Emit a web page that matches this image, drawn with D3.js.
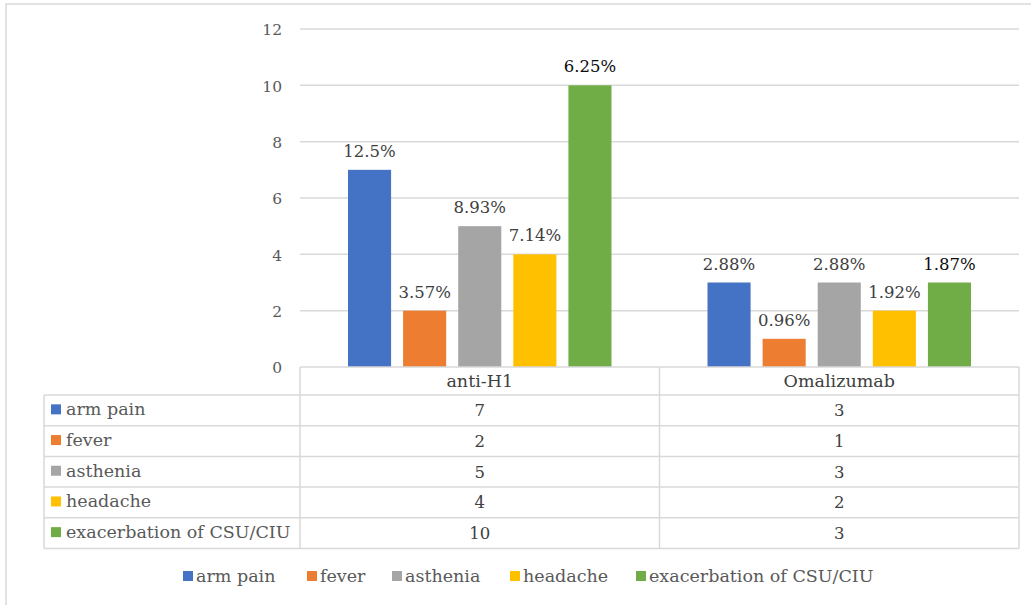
<!DOCTYPE html>
<html>
<head>
<meta charset="utf-8">
<script src="https://cdn.jsdelivr.net/npm/d3@7/dist/d3.min.js"></script>
<style>
  html, body { margin: 0; padding: 0; background: #ffffff; }
  svg { display: block; }
  text { font-family: Georgia, "DejaVu Serif", serif; }
</style>
</head>
<body>
<svg id="chart" width="1031" height="605"></svg>
<script>
// Adverse events by treatment group
const categories = ["anti-H1", "Omalizumab"];
const seriesNames = ["arm pain", "fever", "asthenia", "headache", "exacerbation of CSU/CIU"];
const antiH1Values = [7, 2, 5, 4, 10];
const omalizumabValues = [3, 1, 3, 2, 3];
const antiH1Percent = ["12.5%", "3.57%", "8.93%", "7.14%", "6.25%"];
const omalizumabPercent = ["2.88%", "0.96%", "2.88%", "1.92%", "1.87%"];
const yTicks = [0, 2, 4, 6, 8, 10, 12];
const seriesColors = ["#4472C4", "#ED7D31", "#A5A5A5", "#FFC000", "#70AD47"];

const valuesByCategory = [antiH1Values, omalizumabValues];
const percentByCategory = [antiH1Percent, omalizumabPercent];

const svg = d3.select("#chart");
const gridColor = "#d9d9d9";
const textColor = "#595959";
const bodySize = 17.5;

// outer frame (extends past the canvas at right and bottom)
svg.append("rect")
  .attr("x", 6).attr("y", 4).attr("width", 1040).attr("height", 620)
  .attr("fill", "none").attr("stroke", gridColor).attr("stroke-width", 1.5);

const plotLeft = 300, plotRight = 1019, plotTop = 29, plotBottom = 367;

const x0 = d3.scaleBand().domain(categories).range([plotLeft, plotRight]).paddingInner(0).paddingOuter(0);
const x1 = d3.scaleBand().domain(seriesNames)
  .range([48, x0.bandwidth() - 48]).paddingInner(0.218).paddingOuter(0);
const y = d3.scaleLinear().domain([0, 12]).range([plotBottom, plotTop]);

// gridlines
svg.append("g").selectAll("line").data(yTicks.filter(t => t > 0)).join("line")
  .attr("x1", plotLeft).attr("x2", plotRight)
  .attr("y1", d => y(d)).attr("y2", d => y(d))
  .attr("stroke", gridColor).attr("stroke-width", 1.5);

// y axis tick labels
const yAxis = d3.axisLeft(y).tickValues(yTicks).tickSize(0).tickPadding(0);
const yAxisG = svg.append("g").attr("transform", `translate(282,1)`).call(yAxis);
yAxisG.select(".domain").remove();
yAxisG.selectAll("text")
  .attr("fill", textColor).attr("font-size", 15.5)
  .style("font-family", 'Georgia, "DejaVu Serif", serif');

// bars
const groups = svg.append("g").selectAll("g").data(categories).join("g")
  .attr("transform", d => `translate(${x0(d)},0)`);

groups.selectAll("rect")
  .data((c, ci) => seriesNames.map((s, si) => ({ s, si, v: valuesByCategory[ci][si] })))
  .join("rect")
  .attr("x", d => x1(d.s)).attr("width", x1.bandwidth())
  .attr("y", d => y(d.v)).attr("height", d => y(0) - y(d.v))
  .attr("fill", d => seriesColors[d.si]);

// percentage labels above bars
groups.selectAll("text.pct")
  .data((c, ci) => seriesNames.map((s, si) => ({ s, si, v: valuesByCategory[ci][si], p: percentByCategory[ci][si] })))
  .join("text").attr("class", "pct")
  .attr("x", d => x1(d.s) + x1.bandwidth() / 2)
  .attr("y", d => y(d.v) - 13)
  .attr("text-anchor", "middle")
  .attr("font-size", 16.5)
  .attr("fill", d => d.si === 4 ? "#0d0d0d" : "#404040")
  .text(d => d.p);

// data table under the plot
const tableLeft = 44;
const headerTop = plotBottom, headerBottom = 395;
const rowH = 30.7;
const rowTops = seriesNames.map((s, i) => headerBottom + i * rowH);
const tableBottom = headerBottom + seriesNames.length * rowH;

const table = svg.append("g");
const lineStyle = sel => sel.attr("stroke", gridColor).attr("stroke-width", 1.5).attr("fill", "none");

table.append("line").attr("x1", plotLeft).attr("x2", plotRight).attr("y1", headerTop).attr("y2", headerTop).call(lineStyle);
table.selectAll("line.row").data(rowTops.concat([tableBottom])).join("line").attr("class", "row")
  .attr("x1", tableLeft).attr("x2", plotRight).attr("y1", d => d).attr("y2", d => d).call(lineStyle);
table.append("line").attr("x1", tableLeft).attr("x2", tableLeft).attr("y1", headerBottom).attr("y2", tableBottom).call(lineStyle);
const colEdges = categories.map(c => x0(c)).concat([plotRight]);
table.selectAll("line.col").data(colEdges).join("line").attr("class", "col")
  .attr("x1", d => d).attr("x2", d => d).attr("y1", headerTop).attr("y2", tableBottom).call(lineStyle);

// category headers
table.selectAll("text.cat").data(categories).join("text").attr("class", "cat")
  .attr("x", d => x0(d) + x0.bandwidth() / 2)
  .attr("y", (headerTop + headerBottom) / 2 + 6)
  .attr("text-anchor", "middle").attr("font-size", bodySize).attr("fill", "#404040")
  .text(d => d);

// row labels with colour keys
const rows = table.selectAll("g.rowlab").data(seriesNames).join("g").attr("class", "rowlab")
  .attr("transform", (d, i) => `translate(0,${rowTops[i] + rowH / 2})`);
rows.append("rect").attr("x", 51).attr("y", -6).attr("width", 10).attr("height", 10)
  .attr("fill", (d, i) => seriesColors[i]);
rows.append("text").attr("x", 66).attr("y", 5).attr("font-size", bodySize).attr("fill", textColor)
  .text(d => d);

// row values
categories.forEach((c, ci) => {
  table.selectAll(`text.val${ci}`).data(valuesByCategory[ci]).join("text").attr("class", `val${ci}`)
    .attr("x", x0(c) + x0.bandwidth() / 2)
    .attr("y", (d, i) => rowTops[i] + rowH / 2 + 6)
    .attr("text-anchor", "middle").attr("font-size", 16.5).attr("fill", "#404040")
    .text(d => d);
});

// legend at the bottom
const legendX = [183, 307, 392, 510, 636];
const legend = svg.append("g").selectAll("g").data(seriesNames).join("g")
  .attr("transform", (d, i) => `translate(${legendX[i]},577)`);
legend.append("rect").attr("x", 0).attr("y", -6).attr("width", 10).attr("height", 10)
  .attr("fill", (d, i) => seriesColors[i]);
legend.append("text").attr("x", 13).attr("y", 5).attr("font-size", bodySize).attr("fill", textColor)
  .text(d => d);
</script>
</body>
</html>
